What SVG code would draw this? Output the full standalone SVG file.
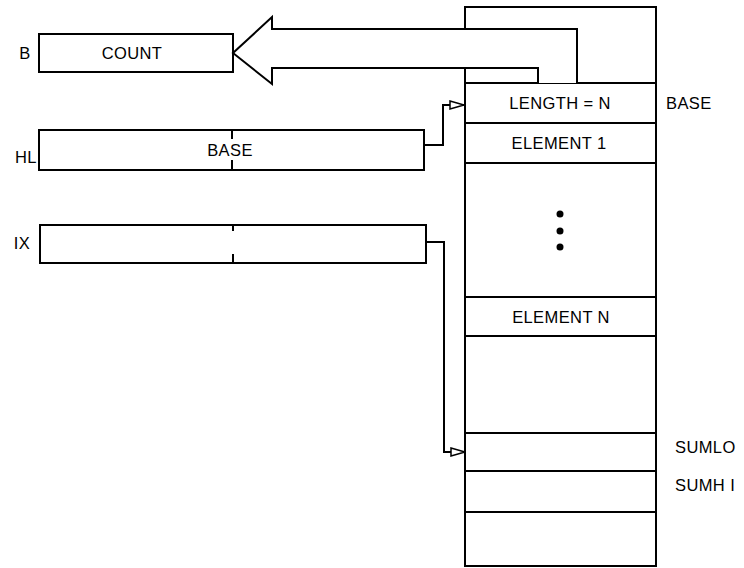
<svg xmlns="http://www.w3.org/2000/svg" width="744" height="568" viewBox="0 0 744 568">
<style>
.box{fill:#fff;stroke:#000;stroke-width:2}
.ln{fill:none;stroke:#000;stroke-width:2}
.t{font-family:"Liberation Sans",Arial,sans-serif;font-size:16.5px;letter-spacing:0.4px;fill:#000}
.m{text-anchor:middle}
</style>
<defs>
<marker id="open" markerWidth="16" markerHeight="10" refX="15" refY="5" orient="auto" markerUnits="userSpaceOnUse">
<path d="M1,1 L15,5 L1,9 Z" fill="#fff" stroke="#000" stroke-width="1.5"/>
</marker>
</defs>
<rect width="744" height="568" fill="#fff"/>

<g id="reg-B">
<rect class="box" x="39" y="34" width="194" height="38"/>
<text class="t m" x="25" y="59">B</text>
<text class="t m" x="132" y="59">COUNT</text>
</g>

<g id="reg-HL">
<rect class="box" x="39" y="130" width="385" height="40"/>
<line class="ln" x1="232" y1="130" x2="232" y2="139"/>
<line class="ln" x1="232" y1="160" x2="232" y2="170"/>
<text class="t m" x="26" y="163">HL</text>
<text class="t m" x="230" y="156">BASE</text>
</g>

<g id="reg-IX">
<rect class="box" x="40" y="225" width="386" height="38"/>
<line class="ln" x1="233" y1="225" x2="233" y2="231"/>
<line class="ln" x1="233" y1="254" x2="233" y2="263"/>
<text class="t m" x="22" y="249">IX</text>
</g>

<g id="memory">
<rect class="box" x="465" y="7" width="191" height="559"/>
<g id="row-top"><line class="ln" x1="465" y1="83" x2="656" y2="83"/></g>
<g id="row-length">
<line class="ln" x1="465" y1="123" x2="656" y2="123"/>
<text class="t m" x="560" y="109">LENGTH = N</text>
<text class="t" x="666" y="109">BASE</text>
</g>
<g id="row-element1">
<line class="ln" x1="465" y1="163" x2="656" y2="163"/>
<text class="t m" x="559" y="149">ELEMENT  1</text>
</g>
<g id="dots">
<circle cx="560" cy="214" r="3.5"/>
<circle cx="560" cy="231" r="3.5"/>
<circle cx="560" cy="247" r="3.5"/>
</g>
<g id="row-elementN">
<line class="ln" x1="465" y1="297" x2="656" y2="297"/>
<line class="ln" x1="465" y1="336" x2="656" y2="336"/>
<text class="t m" x="561" y="323">ELEMENT N</text>
</g>
<g id="row-sumlo">
<line class="ln" x1="465" y1="433" x2="656" y2="433"/>
<line class="ln" x1="465" y1="471" x2="656" y2="471"/>
<text class="t" x="675" y="453">SUMLO</text>
</g>
<g id="row-sumhi">
<line class="ln" x1="465" y1="512" x2="656" y2="512"/>
<text class="t" x="675" y="491">SUMH I</text>
</g>
</g>

<g id="connectors">
<path class="box" d="M577,83 V29 H272 V17 L233,53 L272,84 V68 H538 V83"/>
<path class="ln" d="M424,145 H443 V105 H464" marker-end="url(#open)"/>
<path class="ln" d="M426,242 H444 V452 H465" marker-end="url(#open)"/>
</g>
</svg>
